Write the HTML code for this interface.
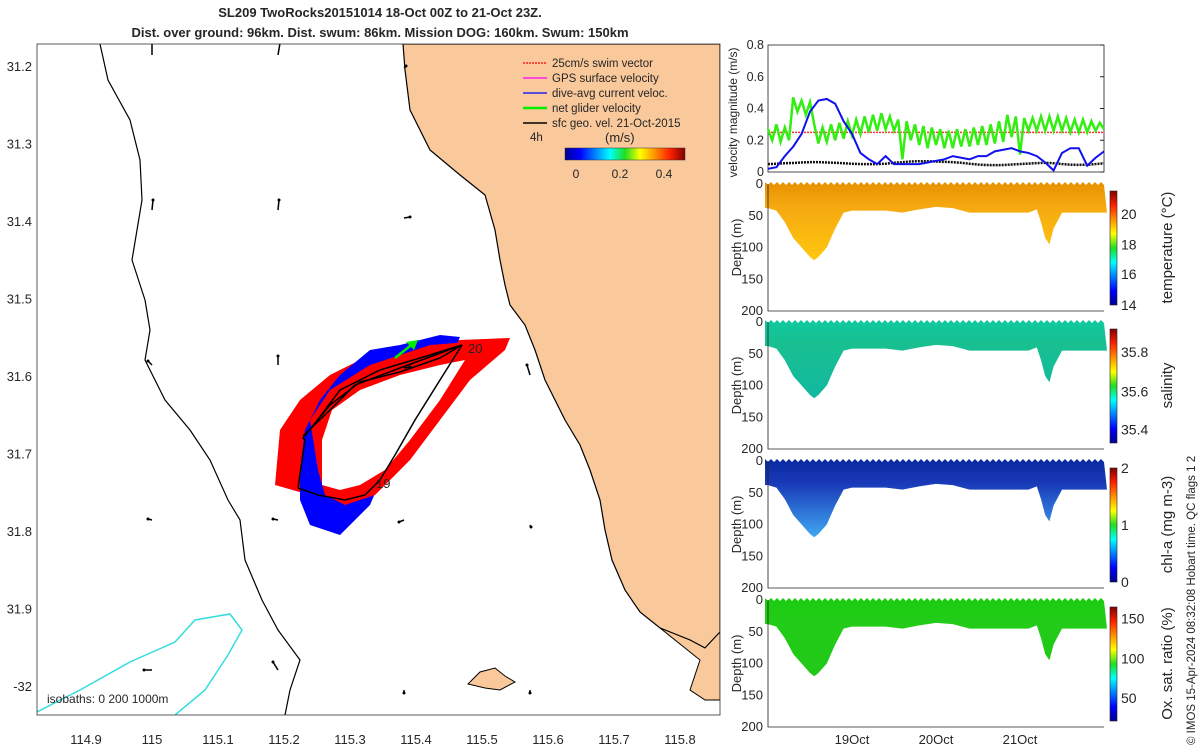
<!DOCTYPE html>
<html><head><meta charset="utf-8"><style>
body{margin:0;background:#fff;width:1200px;height:750px;overflow:hidden;font-family:"Liberation Sans",sans-serif}
svg text{font-family:"Liberation Sans",sans-serif;fill:#262626}
</style></head><body>
<svg id="fig" width="1200" height="750" viewBox="0 0 1200 750" xmlns="http://www.w3.org/2000/svg">
<defs>
<linearGradient id="jet" x1="0" x2="1" y1="0" y2="0">
<stop offset="0" stop-color="#00008f"/><stop offset="0.125" stop-color="#0000ff"/><stop offset="0.375" stop-color="#00ffff"/><stop offset="0.5" stop-color="#22dd22"/><stop offset="0.625" stop-color="#ffff00"/><stop offset="0.875" stop-color="#ff2000"/><stop offset="1" stop-color="#800000"/></linearGradient>
<linearGradient id="jetv" x1="0" x2="0" y1="1" y2="0">
<stop offset="0" stop-color="#00008f"/><stop offset="0.125" stop-color="#0000ff"/><stop offset="0.375" stop-color="#00ffff"/><stop offset="0.5" stop-color="#22dd22"/><stop offset="0.625" stop-color="#ffff00"/><stop offset="0.875" stop-color="#ff2000"/><stop offset="1" stop-color="#800000"/></linearGradient>
<clipPath id="mapclip"><rect x="37" y="44" width="683" height="671"/></clipPath>
</defs>
<text x="380" y="17" text-anchor="middle" font-size="13" font-weight="bold">SL209 TwoRocks20151014 18-Oct 00Z to 21-Oct 23Z.</text>
<text x="380" y="37" text-anchor="middle" font-size="13" font-weight="bold">Dist. over ground: 96km. Dist. swum: 86km. Mission DOG: 160km. Swum: 150km</text>

<g id="map">
<g clip-path="url(#mapclip)">
<polygon fill="#f9c89b" stroke="#000" stroke-width="1.2" points="403,44 405,70 410,110 430,150 460,175 485,195 495,230 500,260 505,285 510,305 525,325 535,350 545,380 555,400 565,420 580,445 590,470 600,500 605,530 612,560 625,590 640,612 660,628 690,640 705,648 720,632 720,44"/>
<polygon fill="#f9c89b" stroke="#000" stroke-width="1" points="660,628 700,660 690,690 705,700 720,700 720,632 705,648 690,640"/>
<polygon fill="#f9c89b" stroke="#000" stroke-width="1" points="468,684 480,672 495,668 505,676 515,682 500,690 485,688"/>
<polyline fill="none" stroke="#000" stroke-width="1.2" points="100,44 108,80 130,120 140,160 142,200 132,260 145,300 150,330 145,360 165,400 190,430 210,460 228,500 240,520 245,560 262,600 278,630 300,660 290,690 285,715"/>
<polyline fill="none" stroke="#33dddd" stroke-width="1.5" points="37,712 80,690 130,662 175,642 195,620 230,614 242,630 228,655 205,690 175,715"/>
<polygon fill="#ff0000" points="275,485 280,430 300,400 330,375 370,355 410,345 460,340 510,338 505,350 470,380 440,420 410,460 380,490 340,500 310,495"/>
<polygon fill="#0000ff" points="300,470 305,430 320,400 340,375 370,350 400,345 440,335 460,337 450,360 420,390 395,430 385,470 370,505 340,535 310,525 300,500"/>
<polygon fill="#ff0000" points="310,420 330,390 370,365 430,345 495,340 470,370 440,410 420,440 400,470 375,495 345,505 325,495 318,470"/>
<polygon fill="#fff" points="322,485 322,440 332,410 360,390 400,375 440,365 465,360 440,400 410,440 385,470 360,485 340,490"/>
<polyline fill="none" stroke="#000" stroke-width="1.5" points="298,488 305,440 303,438 330,405 360,382 400,372 440,358 462,345 440,380 415,420 395,455 380,480 365,495 345,500 318,495 298,488"/>
<polyline fill="none" stroke="#000" stroke-width="1.5" points="303,436 330,410 355,385 400,368 462,345 420,358 380,370 340,390 310,430"/>
<line x1="395" y1="358" x2="415" y2="342" stroke="#00ee00" stroke-width="2.5"/>
<polygon fill="#00ee00" points="418,340 406,342 414,350"/>
<text x="468" y="353" font-size="13">20</text>
<text x="376" y="488" font-size="13">19</text>
<g id="arrows"></g>
</g>
<rect x="37" y="44" width="683" height="671" fill="none" stroke="#333" stroke-width="0.8"/>
<g id="maplabels"></g>
<g font-size="11.5">
<line x1="523" y1="63" x2="547" y2="63" stroke="#ff0000" stroke-width="1.2" stroke-dasharray="2,1"/><text x="552" y="67">25cm/s swim vector</text>
<line x1="523" y1="78" x2="547" y2="78" stroke="#ff00ff" stroke-width="1.2"/><text x="552" y="82">GPS surface velocity</text>
<line x1="523" y1="93" x2="547" y2="93" stroke="#0000ff" stroke-width="1.2"/><text x="552" y="97">dive-avg current veloc.</text>
<line x1="523" y1="108" x2="547" y2="108" stroke="#00ee00" stroke-width="2.5"/><text x="552" y="112">net glider velocity</text>
<line x1="523" y1="123" x2="547" y2="123" stroke="#000" stroke-width="1.5"/><text x="552" y="127">sfc geo. vel. 21-Oct-2015</text>
<text x="530" y="141">4h</text>
<text x="605" y="142" font-size="13">(m/s)</text>
<rect x="565" y="148" width="120" height="12" fill="url(#jet)" stroke="#333" stroke-width="0.5"/>
<text x="576" y="178" text-anchor="middle" font-size="12">0</text><text x="620" y="178" text-anchor="middle" font-size="12">0.2</text><text x="664" y="178" text-anchor="middle" font-size="12">0.4</text>
</g>
<text x="47" y="703" font-size="12">isobaths: 0   200   1000m</text>
</g>

<g id="vel"></g>
<g id="sections"></g>
<text transform="translate(1195,745) rotate(-90)" font-size="11.5">© IMOS 15-Apr-2024 08:32:08 Hobart time. QC flags 1  2</text>
</svg>
<script>
// ---------- data ----------
const mapLatTicks=["31.2","31.3","31.4","31.5","31.6","31.7","31.8","31.9","-32"];
const mapLonTicks=["114.9","115","115.1","115.2","115.3","115.4","115.5","115.6","115.7","115.8"];
const geoArrowX=[152,278,404,152,278,404,152,278,404,530,152,278,404,530,152,278,404,530];
const geoArrowY=[55,55,68,210,210,218,365,365,368,375,520,520,520,525,670,670,690,690];
const geoU=[0,2,2,1,1,6,-4,0,6,-3,-4,-5,-5,1,-8,-5,0,0];
const geoV=[-14,-12,-2,-10,-10,-1,-4,-9,-1,-10,-1,-1,2,2,0,-8,3,3];

const velT=[0,0.1,0.2,0.3,0.4,0.5,0.6,0.7,0.8,0.9,1.0,1.1,1.2,1.3,1.4,1.5,1.6,1.7,1.8,1.9,2.0,2.1,2.2,2.3,2.4,2.5,2.6,2.7,2.8,2.9,3.0,3.1,3.2,3.3,3.4,3.5,3.6,3.7,3.8,3.9,4.0];
const currentVel=[0.02,0.03,0.1,0.16,0.24,0.38,0.45,0.46,0.43,0.32,0.24,0.12,0.08,0.05,0.1,0.05,0.05,0.05,0.05,0.06,0.07,0.08,0.1,0.09,0.08,0.1,0.1,0.13,0.14,0.15,0.13,0.12,0.1,0.06,0.01,0.12,0.15,0.15,0.04,0.09,0.13];
const geoVel=[0.05,0.052,0.055,0.057,0.06,0.062,0.062,0.06,0.058,0.055,0.052,0.05,0.05,0.05,0.052,0.058,0.062,0.066,0.068,0.068,0.066,0.064,0.062,0.058,0.052,0.047,0.044,0.043,0.044,0.047,0.05,0.053,0.056,0.058,0.055,0.05,0.046,0.045,0.046,0.05,0.055];
const swimT=[0,0.05,0.1,0.15,0.2,0.25,0.3,0.35,0.4,0.45,0.5,0.55,0.6,0.65,0.7,0.75,0.8,0.85,0.9,0.95,1.0,1.05,1.1,1.15,1.2,1.25,1.3,1.35,1.4,1.45,1.5,1.55,1.6,1.65,1.7,1.75,1.8,1.85,1.9,1.95,2.0,2.05,2.1,2.15,2.2,2.25,2.3,2.35,2.4,2.45,2.5,2.55,2.6,2.65,2.7,2.75,2.8,2.85,2.9,2.95,3.0,3.05,3.1,3.15,3.2,3.25,3.3,3.35,3.4,3.45,3.5,3.55,3.6,3.65,3.7,3.75,3.8,3.85,3.9,3.95,4.0];
const netVel=[0.27,0.2,0.3,0.19,0.28,0.2,0.47,0.38,0.45,0.36,0.44,0.3,0.18,0.28,0.19,0.3,0.2,0.31,0.21,0.32,0.23,0.33,0.24,0.35,0.25,0.36,0.26,0.37,0.27,0.35,0.26,0.33,0.08,0.32,0.2,0.3,0.17,0.29,0.15,0.28,0.17,0.27,0.15,0.26,0.15,0.27,0.16,0.27,0.16,0.28,0.17,0.29,0.17,0.3,0.18,0.32,0.19,0.36,0.22,0.35,0.11,0.34,0.26,0.34,0.26,0.35,0.26,0.35,0.26,0.35,0.26,0.34,0.25,0.33,0.25,0.33,0.25,0.32,0.26,0.31,0.27];
const swimSpeed=[0.25,0.25];
const velTicks=[0,0.2,0.4,0.6,0.8];
const dayTicks=[1,2,3];
const dayLabels=["19Oct","20Oct","21Oct"];
const depthTicks=[0,50,100,150,200];

const sectT=[0,0.1,0.2,0.3,0.4,0.5,0.55,0.6,0.7,0.8,0.9,1.0,1.2,1.4,1.6,1.8,2.0,2.2,2.4,2.6,2.8,3.0,3.1,3.2,3.25,3.3,3.35,3.4,3.5,3.6,3.8,4.0];
const bottomDepth=[38,42,60,85,100,115,120,115,100,70,45,42,42,42,45,40,36,38,45,45,45,45,45,40,60,85,95,70,45,45,45,45];
const sectNames=["temperature","salinity","chl-a","oxygen"];
const sectLabels=["temperature (°C)","salinity","chl-a (mg m-3)","Ox. sat. ratio (%)"];
const cbTicks=[["14","16","18","20"],["35.4","35.6","35.8"],["0","1","2"],["50","100","150"]];
const cbFrac=[[0,0.27,0.53,0.8],[0.12,0.45,0.8],[0,0.5,1],[0.2,0.55,0.9]];
const fillTop=["#e89000","#10c8a0","#0a2aa0","#1ccc10"];
const fillMid=["#f5a810","#18c090","#1838b8","#22cc18"];
const fillDeep=["#ffc810","#12b8a0","#40a8f0","#22c818"];

// ---------- drawing ----------
const NS="http://www.w3.org/2000/svg";
function mk(tag,attrs,parent){const e=document.createElementNS(NS,tag);for(const k in attrs)e.setAttribute(k,attrs[k]);parent.appendChild(e);return e;}
const map=document.getElementById('maplabels');
mapLatTicks.forEach((l,i)=>{const y=67+i*77.5;
 const t=mk('text',{x:32,y:y+4,'text-anchor':'end','font-size':13},map);t.textContent=l;
 
 });
mapLonTicks.forEach((l,i)=>{const x=86+i*66;
 const t=mk('text',{x:x,y:744,'text-anchor':'middle','font-size':13},map);t.textContent=l;
 
 });
const ar=document.getElementById('arrows');
geoArrowX.forEach((x,i)=>{const y=geoArrowY[i],u=geoU[i],v=geoV[i];
 const l=mk('line',{x1:x,y1:y,x2:x+u,y2:y+v,stroke:'#000','stroke-width':1.5},ar);
 
 
 mk('circle',{cx:x+u,cy:y+v,r:1.5,fill:'#000'},ar);});

// velocity panel
const VX0=768,VX1=1104,VY0=172,VY1=45;
const vx=t=>VX0+t*(VX1-VX0)/4, vy=v=>VY0-v/0.8*(VY0-VY1);
const vel=document.getElementById('vel');
mk('rect',{x:VX0,y:VY1,width:VX1-VX0,height:VY0-VY1,fill:'none',stroke:'#222','stroke-width':0.8},vel);
velTicks.forEach(v=>{const t=mk('text',{x:VX0-4,y:vy(v)+4,'text-anchor':'end','font-size':12.5},vel);t.textContent=v===0?'0':v.toFixed(1);
 
 
 mk('line',{x1:VX1-4,x2:VX1,y1:vy(v),y2:vy(v),stroke:'#222'},vel);});
const yl=mk('text',{transform:`translate(737,${(VY0+VY1)/2+4}) rotate(-90)`,'text-anchor':'middle','font-size':12},vel);yl.textContent='velocity magnitude (m/s)';


function line(ts,vs,col,w,name,dash){const p=ts.map((t,i)=>vx(t)+','+vy(vs[i])).join(' ');
 const l=mk('polyline',{points:p,fill:'none',stroke:col,'stroke-width':w},vel);if(dash)l.setAttribute('stroke-dasharray',dash);
 
 }
line([0,4],swimSpeed,'#ff3030',1.5,'swim-speed-line','2,1');
line(velT,geoVel,'#111',2.5,'geo-velocity-line','2,1');
line(swimT,netVel,'#33ee11',2.5,'net-velocity-line');
line(velT,currentVel,'#1010ee',2,'current-velocity-line');

// sections
const secG=document.getElementById('sections');
const tops=[184,322,461,600];const H=127;
sectNames.forEach((n,k)=>{
 const g=mk('g',{},secG);
 
 
 const Y0=tops[k],dy=d=>Y0+d/200*H;
 let pts=[];for(let x=VX0-3;x<=VX1+2;x+=6){pts.push(x+','+(Y0-2));pts.push((x+3)+','+(Y0+1));}
 const bot=sectT.slice().reverse().map((t,i)=>{const j=sectT.length-1-i;return vx(t)+','+dy(bottomDepth[j]);});
 const gid='sg'+k;const lg=mk('linearGradient',{id:gid,x1:0,x2:0,y1:0,y2:1},document.querySelector('defs'));
 mk('stop',{offset:0,'stop-color':fillTop[k]},lg);mk('stop',{offset:0.3,'stop-color':fillMid[k]},lg);mk('stop',{offset:1,'stop-color':fillDeep[k]},lg);
 const poly=mk('polygon',{points:pts.join(' ')+' '+(VX1+3)+','+dy(45)+' '+bot.join(' ')+' '+(VX0-3)+','+dy(38),fill:`url(#${gid})`},g);
 
 
 mk('polyline',{points:`${VX0},${Y0} ${VX0},${Y0+H} ${VX1},${Y0+H}`,fill:'none',stroke:'#222','stroke-width':0.8},g);
 depthTicks.forEach(d=>{const t=mk('text',{x:VX0-5,y:dy(d)+4,'text-anchor':'end','font-size':13},g);t.textContent=d;
  
  });
 const t=mk('text',{transform:`translate(741,${Y0+H/2}) rotate(-90)`,'text-anchor':'middle','font-size':13},g);t.textContent='Depth (m)';
 
 
 const cy0=Y0+7,cy1=Y0+H-6;
 const cb=mk('rect',{x:1110,y:cy0,width:7,height:cy1-cy0,fill:'url(#jetv)',stroke:'#222','stroke-width':0.6},g);
 
 
 cbTicks[k].forEach((l,i)=>{const y=cy1-cbFrac[k][i]*(cy1-cy0);const tt=mk('text',{x:1121,y:y+5,'font-size':14},g);tt.textContent=l;
  
  });
 const lab=mk('text',{transform:`translate(1172,${Y0+H/2}) rotate(-90)`,'text-anchor':'middle','font-size':15},g);lab.textContent=sectLabels[k];
 
 
});
dayTicks.forEach((d,i)=>{const t=mk('text',{x:vx(d),y:744,'text-anchor':'middle','font-size':13},secG);t.textContent=dayLabels[i];
 
 });
</script>
</body></html>
